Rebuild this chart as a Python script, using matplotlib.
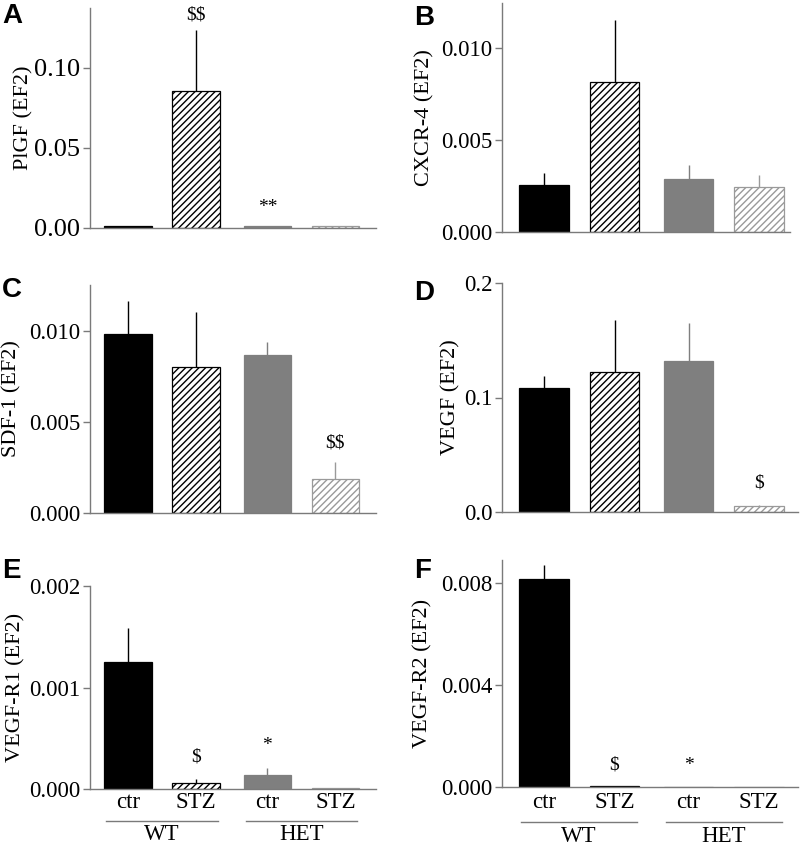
import numpy as np
import matplotlib
matplotlib.use("Agg")
import matplotlib.pyplot as plt

# =========================================================
# Data
# =========================================================

GROUPS = ["WT ctr", "WT STZ", "HET ctr", "HET STZ"]
TICK_LABELS = ["ctr", "STZ", "ctr", "STZ"]
GENOTYPES = ["WT", "HET"]

PLGF_MEAN = [0.0012, 0.0856, 0.0015, 0.0010]
PLGF_ERR = [0.0, 0.0382, 0.0, 0.0]

CXCR4_MEAN = [0.00255, 0.00815, 0.00288, 0.00245]
CXCR4_ERR = [0.00065, 0.0034, 0.00076, 0.00065]

SDF1_MEAN = [0.00983, 0.0080, 0.00868, 0.00187]
SDF1_ERR = [0.0018, 0.0030, 0.0007, 0.0009]

VEGF_MEAN = [0.1087, 0.122, 0.1318, 0.005]
VEGF_ERR = [0.0103, 0.046, 0.033, 0.001]

VEGFR1_MEAN = [0.00125, 0.00006, 0.00014, 0.000005]
VEGFR1_ERR = [0.00034, 0.00004, 0.00007, 0.0]

VEGFR2_MEAN = [0.00816, 0.00005, 0.00001, 0.00001]
VEGFR2_ERR = [0.00054, 0.0, 0.0, 0.0]

# =========================================================
# Style
# =========================================================

plt.rcParams["font.family"] = ["Liberation Serif", "DejaVu Serif"]
plt.rcParams["hatch.linewidth"] = 1.0
plt.rcParams["text.parse_math"] = False

W, H = 800, 849
SPINE = "#7a7a7a"
GRAY = "#7f7f7f"
LIGHT = "#9a9a9a"

X = np.array([0.0, 1.0, 2.05, 3.05])

fig = plt.figure(figsize=(W / 100, H / 100), dpi=100)


def px_axes(left, right, top, bottom):
    return fig.add_axes([left / W, 1 - bottom / H,
                         (right - left) / W, (bottom - top) / H])


def draw_panel(ax, means, errs, ylim, yticks, yticklabels, ylabel,
               unit_left, x_right, tick_size=16.5, label_x=-0.23):
    face = ["black", "white", GRAY, "white"]
    edge = ["black", "black", GRAY, LIGHT]
    hatch = [None, "/////", None, "/////"]
    ecol = ["black", "black", GRAY, LIGHT]

    for i in range(4):
        ax.bar(X[i], means[i], width=0.7, color=face[i],
               edgecolor=edge[i], hatch=hatch[i], linewidth=0.9,
               zorder=2)
        if errs[i] > 0:
            ax.errorbar(X[i], means[i], yerr=[[0], [errs[i]]],
                        fmt="none", ecolor=ecol[i], elinewidth=1.0,
                        capsize=0, zorder=1)

    ax.set_xlim(unit_left, x_right)
    ax.set_ylim(*ylim)
    ax.set_yticks(yticks)
    ax.set_yticklabels(yticklabels)
    ax.set_xticks([])

    for s in ["top", "right"]:
        ax.spines[s].set_visible(False)
    for s in ["left", "bottom"]:
        ax.spines[s].set_color(SPINE)
        ax.spines[s].set_linewidth(1.0)

    ax.tick_params(axis="y", direction="out", length=5, width=1.0,
                   color=SPINE, labelsize=tick_size, pad=2)
    ax.set_ylabel(ylabel, fontsize=16)
    ax.yaxis.set_label_coords(label_x, 0.5)


def group_labels(ax, y_tick, y_line, y_group):
    trans = ax.get_xaxis_transform()
    for xi, lab in zip(X, TICK_LABELS):
        ax.text(xi, y_tick, lab, transform=trans, ha="center",
                va="center", fontsize=16.5)
    centers = [X[:2].mean(), X[2:].mean()]
    for c, g in zip(centers, GENOTYPES):
        ax.plot([c - 0.82, c + 0.82], [y_line, y_line], transform=trans,
                color=SPINE, linewidth=1.0, clip_on=False)
        ax.text(c, y_group, g, transform=trans, ha="center",
                va="center", fontsize=16.5)


# Left column: x 90..376, unit 68 px ; right column: x 502..798, unit 70.5 px
L_LEFT, L_RIGHT = 90, 376
R_LEFT, R_RIGHT = 502, 798
L_XLIM = ((90 - 128) / 68, (376 - 128) / 68)
R_XLIM = ((502 - 544) / 70.5, (798 - 544) / 70.5)

# ---------------- A ----------------
axA = px_axes(L_LEFT, L_RIGHT, 8, 228)
draw_panel(axA, PLGF_MEAN, PLGF_ERR, (0, 0.1375), [0, 0.05, 0.10],
           ["0.00", "0.05", "0.10"], "PlGF (EF2)", *L_XLIM, tick_size=19,
           label_x=-0.196)
axA.text(X[1], 0.133, "$$", ha="center", va="center", fontsize=14)
axA.text(X[2], 0.0125, "**", ha="center", va="center", fontsize=14)

# ---------------- B ----------------
axB = px_axes(R_LEFT, 790, 3, 232)
draw_panel(axB, CXCR4_MEAN, CXCR4_ERR, (0, 0.01245), [0, 0.005, 0.010],
           ["0.000", "0.005", "0.010"], "CXCR-4 (EF2)",
           R_XLIM[0], (790 - 544) / 70.5, label_x=-0.236)

# ---------------- C ----------------
axC = px_axes(L_LEFT, L_RIGHT, 285, 513)
draw_panel(axC, SDF1_MEAN, SDF1_ERR, (0, 0.0125), [0, 0.005, 0.010],
           ["0.000", "0.005", "0.010"], "SDF-1 (EF2)", *L_XLIM,
           label_x=-0.24)
axC.text(X[3], 0.00385, "$$", ha="center", va="center", fontsize=14)

# ---------------- D ----------------
axD = px_axes(R_LEFT, R_RIGHT, 283, 512)
draw_panel(axD, VEGF_MEAN, VEGF_ERR, (0, 0.2), [0, 0.1, 0.2],
           ["0.0", "0.1", "0.2"], "VEGF (EF2)", *R_XLIM, label_x=-0.14)
axD.text(X[3], 0.025, "$", ha="center", va="center", fontsize=14)

# ---------------- E ----------------
axE = px_axes(L_LEFT, L_RIGHT, 586, 789)
draw_panel(axE, VEGFR1_MEAN, VEGFR1_ERR, (0, 0.002), [0, 0.001, 0.002],
           ["0.000", "0.001", "0.002"], "VEGF-R1 (EF2)", *L_XLIM,
           label_x=-0.227)
axE.text(X[1], 0.000315, "$", ha="center", va="center", fontsize=14)
axE.text(X[2], 0.000433, "*", ha="center", va="center", fontsize=14)
group_labels(axE, -13 / 203, -32 / 203, -46 / 203)

# ---------------- F ----------------
axF = px_axes(R_LEFT, R_RIGHT, 560, 787)
draw_panel(axF, VEGFR2_MEAN, VEGFR2_ERR, (0, 0.0089), [0, 0.004, 0.008],
           ["0.000", "0.004", "0.008"], "VEGF-R2 (EF2)", *R_XLIM,
           label_x=-0.236)
axF.text(X[1], 0.00086, "$", ha="center", va="center", fontsize=14)
axF.text(X[2], 0.00086, "*", ha="center", va="center", fontsize=14)
group_labels(axF, -15 / 227, -35 / 227, -50 / 227)

# ---------------- panel letters ----------------
for lab, px, py in [("A", 2, 3), ("B", 414, 5), ("C", 2, 277),
                    ("D", 414, 280), ("E", 2, 558), ("F", 414, 558)]:
    fig.text(px / W, 1 - py / H, lab, ha="left", va="top",
             fontsize=20, fontweight="bold", family="Liberation Sans")

fig.savefig("out.png", dpi=100)
